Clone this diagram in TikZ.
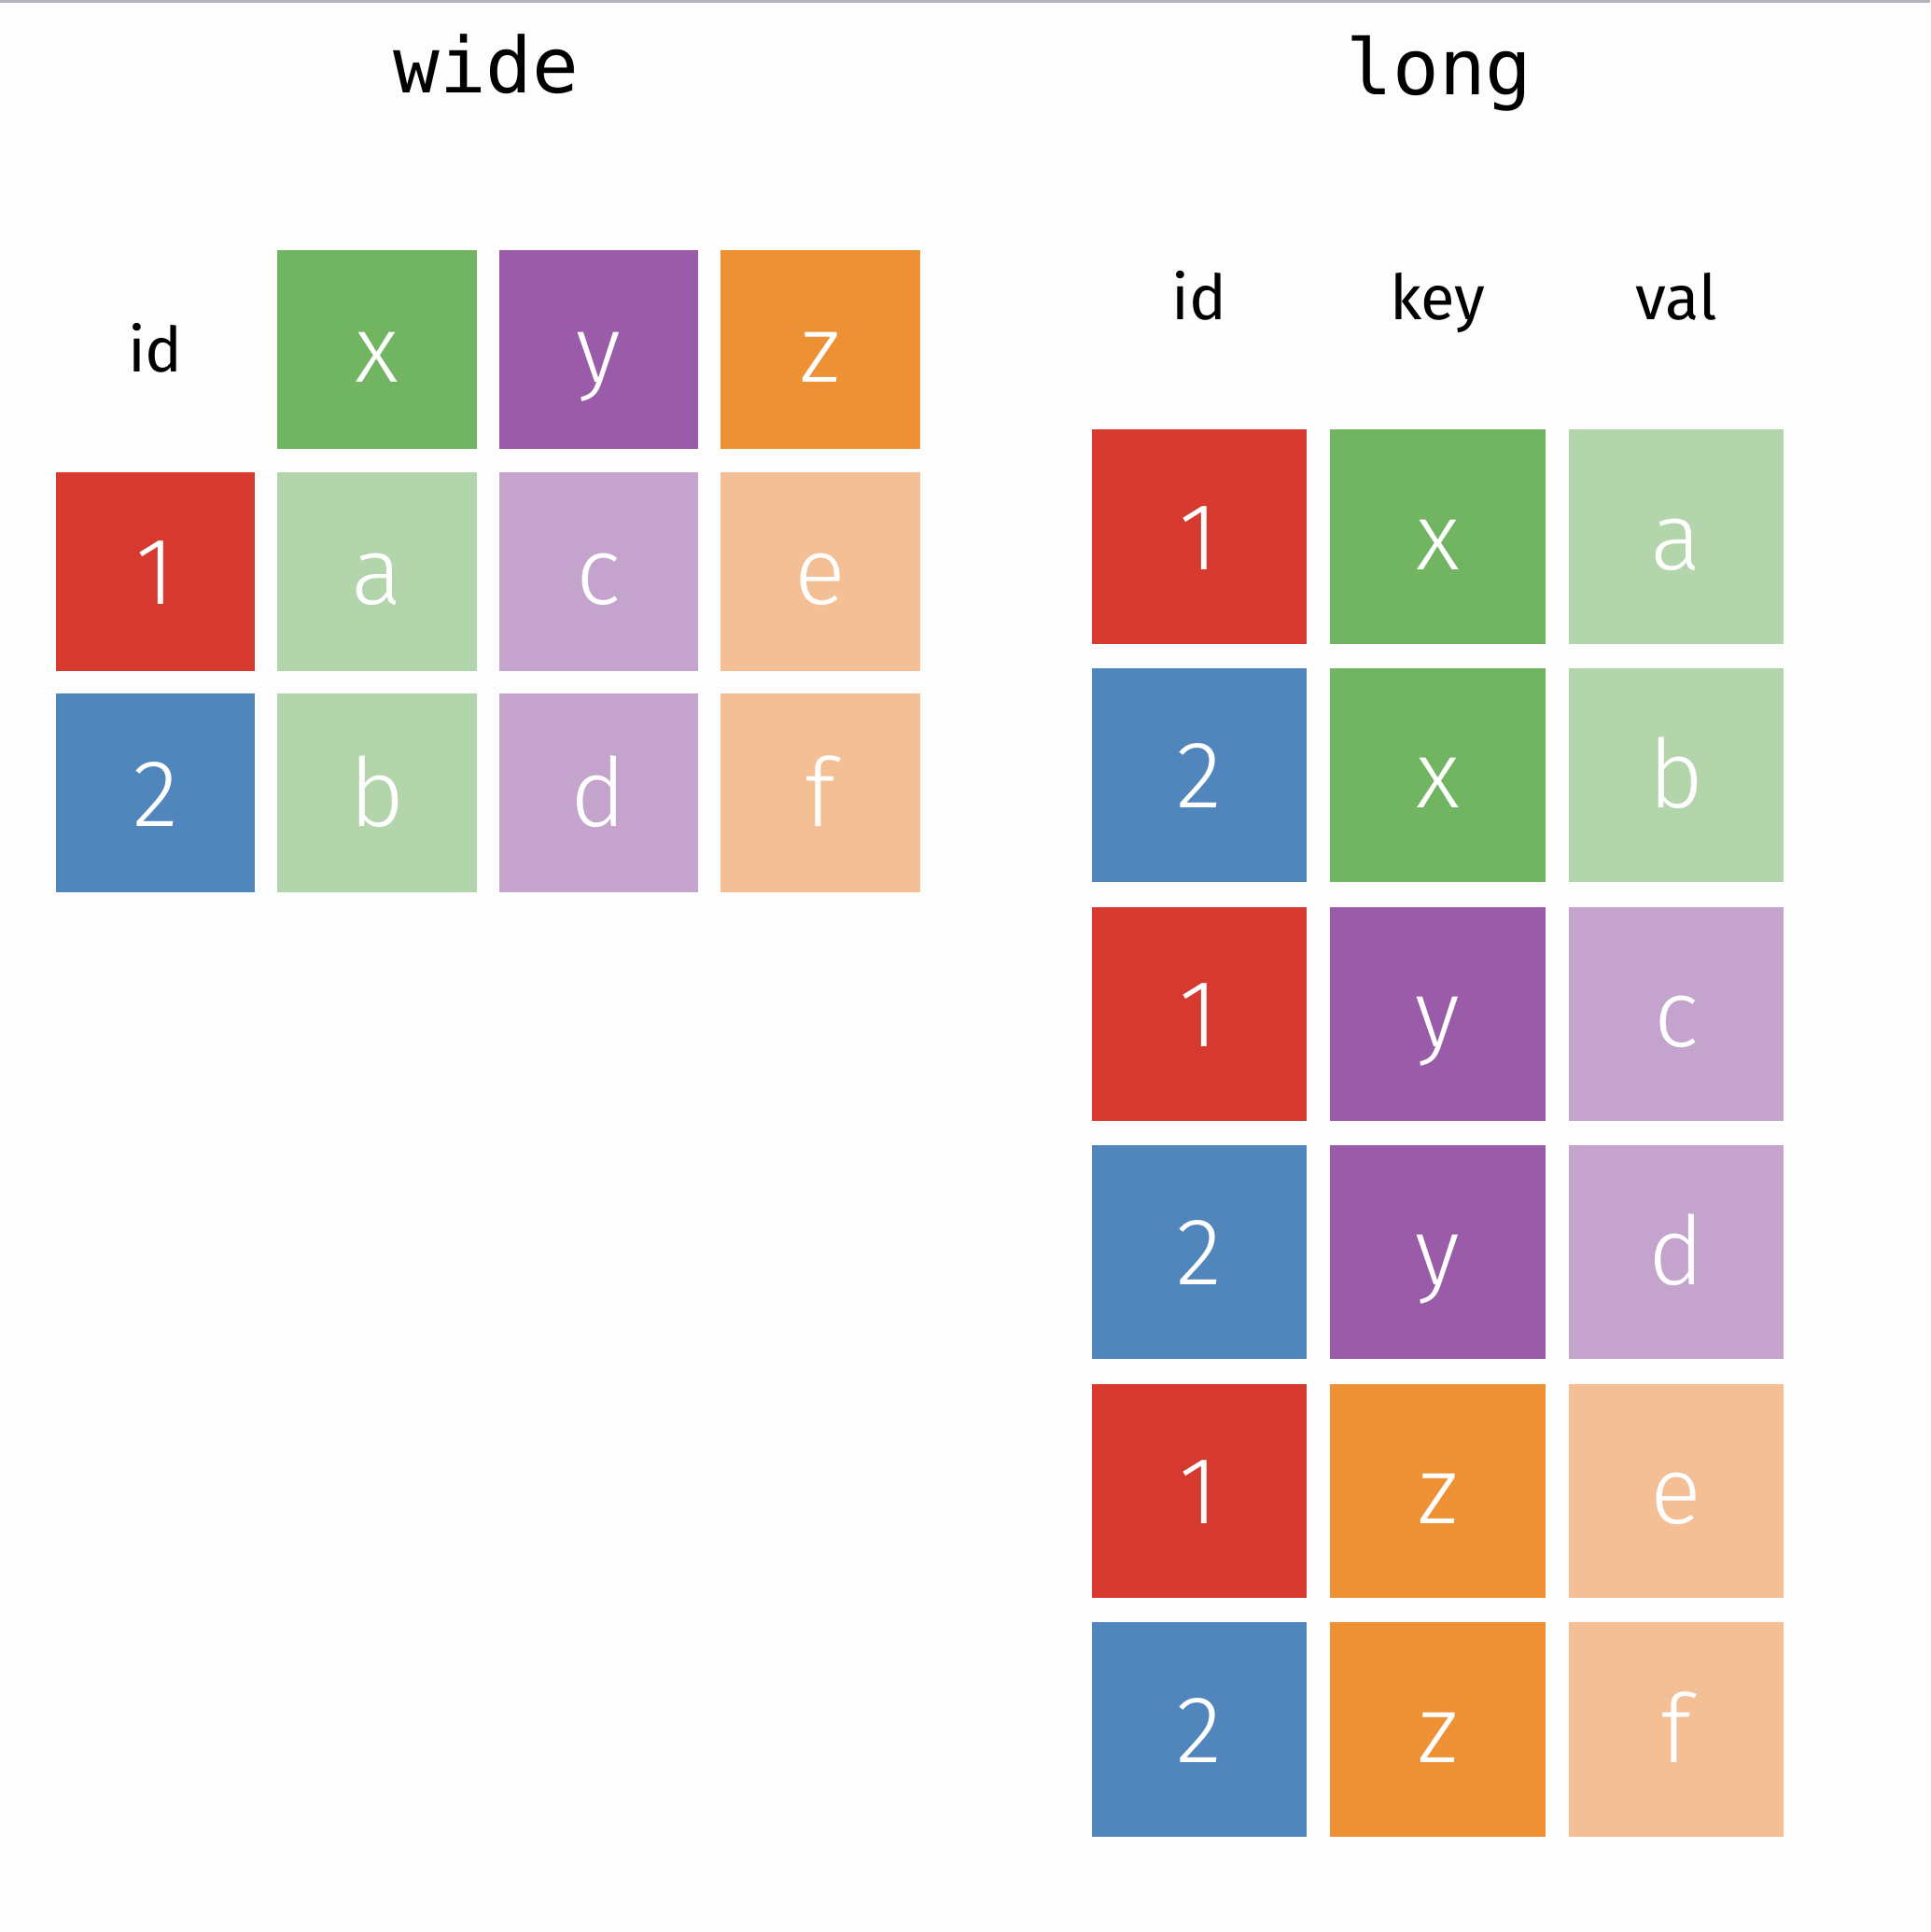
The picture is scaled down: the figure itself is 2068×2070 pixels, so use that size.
\documentclass[tikz,border=0pt]{standalone}
\usepackage{fontspec}
\setmainfont{Fira Sans}
\newfontfamily\celllight{Fira Sans Light}
\setmonofont{DejaVu Sans Mono}
\definecolor{bgc}{HTML}{FDFDFD}
\definecolor{topline}{HTML}{B4B4BC}
\definecolor{cred}{HTML}{D63A2F}
\definecolor{cblue}{HTML}{5086BC}
\definecolor{cgreen}{HTML}{71B562}
\definecolor{cpurple}{HTML}{9A5CA9}
\definecolor{corange}{HTML}{EE9135}
\definecolor{lgreen}{HTML}{B3D5AB}
\definecolor{lpurple}{HTML}{C4A4CD}
\definecolor{lorange}{HTML}{F5BF95}
\begin{document}
\begin{tikzpicture}[x=0.01cm,y=-0.01cm,
  cellbase/.style={inner sep=0pt, text=white, font=\celllight\fontsize{29}{34}\selectfont,
    text height=20pt, text depth=0pt, anchor=center},
  wcell/.style={cellbase, fill=#1, minimum width=2.13cm, minimum height=2.13cm},
  lcell/.style={cellbase, fill=#1, minimum width=2.30cm, minimum height=2.29cm},
  colhead/.style={anchor=base, inner sep=0pt, font=\fontsize{19}{24}\selectfont},
  title/.style={anchor=base, inner sep=0pt, font=\ttfamily\fontsize{23.5}{28}\selectfont}]
\useasboundingbox (0,0) rectangle (2068,2070);
\fill[bgc] (0,0) rectangle (2068,2070);
\draw[topline, line width=0.03cm] (0,1.5) -- (2068,1.5);

% titles
\node[title] (twide) at (521,100) {wide};
\node[title] (tlong) at (1542,102) {long};

% wide table
\node[colhead] (wid) at (166.5,399) {id};
\node[wcell=cgreen]  (wx) at (404.0,374.3) {x};
\node[wcell=cpurple] (wy) at (641.5,374.3) {y};
\node[wcell=corange] (wz) at (879.0,374.3) {z};
\node[wcell=cred]    (w1) at (166.5,612.1) {1};
\node[wcell=lgreen]  (wa) at (404.0,612.1) {a};
\node[wcell=lpurple] (wc) at (641.5,612.1) {c};
\node[wcell=lorange] (we) at (879.0,612.1) {e};
\node[wcell=cblue]   (w2) at (166.5,849.9) {2};
\node[wcell=lgreen]  (wb) at (404.0,849.9) {b};
\node[wcell=lpurple] (wd) at (641.5,849.9) {d};
\node[wcell=lorange] (wf) at (879.0,849.9) {f};

% long table
\node[colhead] (lid)  at (1285,343) {id};
\node[colhead] (lkey) at (1540.5,343) {key};
\node[colhead] (lval) at (1796,343) {val};

\node[lcell=cred]    (l1a) at (1285,575) {1};
\node[lcell=cgreen]  (l1b) at (1540.5,575) {x};
\node[lcell=lgreen]  (l1c) at (1796,575) {a};

\node[lcell=cblue]   (l2a) at (1285,830.6) {2};
\node[lcell=cgreen]  (l2b) at (1540.5,830.6) {x};
\node[lcell=lgreen]  (l2c) at (1796,830.6) {b};

\node[lcell=cred]    (l3a) at (1285,1086.2) {1};
\node[lcell=cpurple] (l3b) at (1540.5,1086.2) {y};
\node[lcell=lpurple] (l3c) at (1796,1086.2) {c};

\node[lcell=cblue]   (l4a) at (1285,1341.8) {2};
\node[lcell=cpurple] (l4b) at (1540.5,1341.8) {y};
\node[lcell=lpurple] (l4c) at (1796,1341.8) {d};

\node[lcell=cred]    (l5a) at (1285,1597.4) {1};
\node[lcell=corange] (l5b) at (1540.5,1597.4) {z};
\node[lcell=lorange] (l5c) at (1796,1597.4) {e};

\node[lcell=cblue]   (l6a) at (1285,1853) {2};
\node[lcell=corange] (l6b) at (1540.5,1853) {z};
\node[lcell=lorange] (l6c) at (1796,1853) {f};
\end{tikzpicture}
\end{document}
